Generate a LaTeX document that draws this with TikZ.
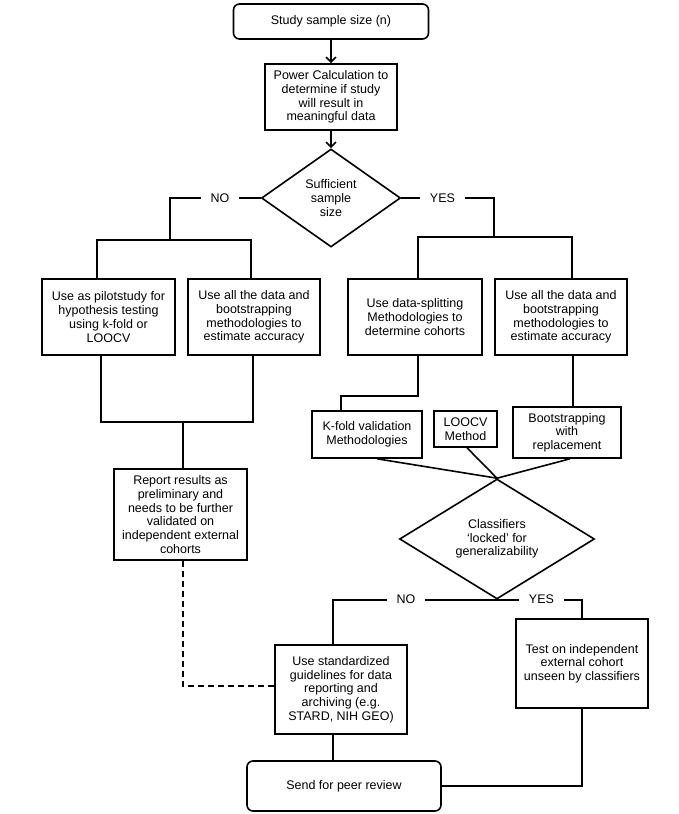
\documentclass[tikz,border=0pt]{standalone}
\usepackage{fontspec}
\setmainfont{Liberation Sans}
\usetikzlibrary{shapes.geometric,arrows.meta}
\begin{document}
\begin{tikzpicture}[x=1pt,y=-1pt,
 every node/.style={font=\fontsize{12.5}{13.7}\selectfont},
 box/.style={draw, line width=1.6pt, align=center, inner sep=0pt},
 rbox/.style={box, rounded corners=6pt},
 dia/.style={draw, diamond, line width=1.6pt, align=center, inner sep=0pt},
 conn/.style={line width=1.6pt},
 lab/.style={fill=white, inner xsep=10pt, inner ysep=2pt},
 arr/.style={conn, -{Straight Barb[length=5pt,width=10pt]}}
]
\useasboundingbox[fill=white] (0,0) rectangle (678,814);

\node[rbox, minimum width=195pt, minimum height=35pt] (start) at (331,21.5) {Study sample size (n)};
\node[box, minimum width=132pt, minimum height=66pt] (power) at (331,97) {Power Calculation to\\determine if study\\will result in\\meaningful data};
\node[dia, aspect=1.4, minimum width=139pt, minimum height=98pt] (d1) at (331,198) {Sufficient\\sample\\size};

\node[box, minimum width=133pt, minimum height=76pt] (L1) at (108.5,317) {Use as pilotstudy for\\hypothesis testing\\using k-fold or\\LOOCV};
\node[box, minimum width=132pt, minimum height=76pt] (L2) at (254,317) {Use all the data and\\bootstrapping\\methodologies to\\estimate accuracy};
\node[box, minimum width=133pt, minimum height=91pt] (rep) at (180.5,514.5) {Report results as\\preliminary and\\needs to be further\\validated on\\independent external\\cohorts};

\node[box, minimum width=134pt, minimum height=76pt] (R1) at (415,317) {Use data-splitting\\Methodologies to\\determine cohorts};
\node[box, minimum width=132pt, minimum height=76pt] (R2) at (561,317) {Use all the data and\\bootstrapping\\methodologies to\\estimate accuracy};

\node[box, minimum width=110pt, minimum height=47pt] (K) at (367,434.5) {K-fold validation\\Methodologies};
\node[box, minimum width=63pt, minimum height=36pt] (LO) at (465.5,429) {LOOCV\\Method};
\node[box, minimum width=108pt, minimum height=51pt] (B) at (567,432.5) {Bootstrapping\\with\\replacement};

\node[dia, aspect=1.6, minimum width=195pt, minimum height=120pt] (d2) at (497,539) {Classifiers\\`locked' for\\generalizability};

\node[box, minimum width=132pt, minimum height=89pt] (S) at (341,689.5) {Use standardized\\guidelines for data\\reporting and\\archiving (e.g.\\STARD, NIH GEO)};
\node[box, minimum width=132pt, minimum height=89pt] (T) at (582,663.5) {Test on independent\\external cohort\\unseen by classifiers};
\node[rbox, minimum width=194pt, minimum height=50pt] (P) at (344,786) {Send for peer review};

\coordinate (n1) at (170,240);
\coordinate (j2) at (183,422);
\coordinate (y1) at (494,237);
\coordinate (j3) at (418,396);

% top arrows
\draw[arr] (start) -- (power);
\draw[arr] (power) -- (d1);

% NO branch
\draw[conn] (d1.west) -| (n1);
\draw[conn] ([xshift=-11.5pt]L1.north) |- (n1) -| ([xshift=-3pt]L2.north);
\draw[conn] ([xshift=-7.5pt]L1.south) |- (j2) -| ([xshift=-1pt]L2.south);
\draw[conn] (j2) -- (j2 |- rep.north);

% YES branch
\draw[conn] (d1.east) -| (y1);
\draw[conn] ([xshift=3pt]R1.north) |- (y1) -| ([xshift=11pt]R2.north);
\draw[conn] ([xshift=3pt]R1.south) -- (j3) -| ([xshift=-26pt]K.north);
\draw[conn] ([xshift=12pt]R2.south) -- ([xshift=12pt]R2.south |- B.north);

% converge
\draw[conn] ([xshift=10pt]K.south) -- (d2.north);
\draw[conn] ([xshift=1.5pt]LO.south) -- (d2.north);
\draw[conn] ([xshift=3pt]B.south) -- (d2.north);

% bottom
\draw[conn] (d2.south) -| ([xshift=-8pt]S.north);
\draw[conn] (d2.south) -| (T.north);
\draw[conn] ([xshift=-8pt]S.south) -- ([xshift=-8pt]S.south |- P.north);
\draw[conn] (T.south) |- (P.east);
\draw[conn, dash pattern=on 6pt off 4pt] ([xshift=2.5pt]rep.south) |- ([yshift=3.5pt]S.west);

% labels
\node[lab] (no1) at (220,198) {NO};
\node[lab] (yes1) at (442.5,198) {YES};
\node[lab] (no2) at (406,599) {NO};
\node[lab] (yes2) at (541.5,599) {YES};
\end{tikzpicture}
\end{document}
